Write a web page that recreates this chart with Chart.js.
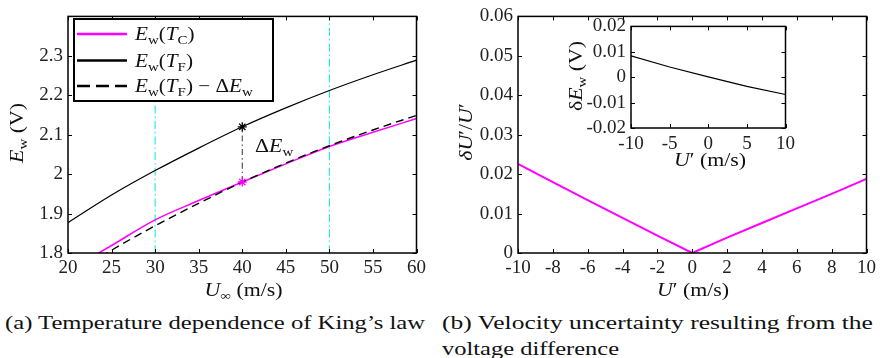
<!DOCTYPE html>
<html>
<head>
<meta charset="utf-8">
<script src="https://cdn.jsdelivr.net/npm/chart.js@4.4.1/dist/chart.umd.min.js"></script>
<style>
  body { margin: 0; background: #fff; width: 880px; height: 358px; position: relative; overflow: hidden; font-family: "Liberation Serif", serif; }
  .box { position: absolute; }
  .cap { position: absolute; font-size: 19.5px; line-height: 26px; white-space: nowrap; color: #111; display: inline-block; transform-origin: 0 50%; }
</style>
</head>
<body>
<div class="box" style="left:0;top:0;width:430px;height:300px"><canvas id="kingChart"></canvas></div>
<div class="box" style="left:440px;top:0;width:440px;height:300px"><canvas id="errChart"></canvas></div>
<div class="box" style="left:560px;top:10px;width:240px;height:165px"><canvas id="insetChart"></canvas></div>

<div class="cap" style="left:5px;top:310px" data-w="420">(a) Temperature dependence of King’s law</div>
<div class="cap" style="left:442px;top:310px" data-w="431">(b) Velocity uncertainty resulting from the</div>
<div class="cap" style="left:442px;top:336px" data-w="177">voltage difference</div>

<script>
// (a) King's law at two temperatures
const uInf = [20, 25, 30, 35, 40, 45, 50, 55, 60];
const ewTC = [1.755, 1.819, 1.884, 1.933, 1.980, 2.026, 2.070, 2.106, 2.141];
const ewTF = [1.877, 1.947, 2.009, 2.066, 2.120, 2.168, 2.212, 2.252, 2.289];
const ewTFminusDelta = [1.737, 1.807, 1.869, 1.926, 1.980, 2.028, 2.072, 2.112, 2.149];
const refU = 40;
const refTF = 2.120;
const refTC = 1.980;
const guideU = [30, 50];
const kingXTicks = [20, 60, 5];      // min, max, step
const kingYTicks = [1.8, 2.4, 0.1];

// (b) velocity uncertainty
const uPrime = [-10, -8, -6, -4, -2, 0, 2, 4, 6, 8, 10];
const relErr = [0.0226, 0.0180, 0.0134, 0.0089, 0.0044, 0.0000, 0.0039, 0.0076, 0.0113, 0.0150, 0.0188];
const errXTicks = [-10, 10, 2];
const errYTicks = [0, 0.06, 0.01];

// inset: voltage difference
const uPrimeInset = [-10, -5, 0, 5, 10];
const deltaEw = [0.0084, 0.0040, 0.0001, -0.0036, -0.0068];
const insetXTicks = [-10, 10, 5];
const insetYTicks = [-0.02, 0.02, 0.01];

const FAMILY = 'Liberation Serif';
const SIZE = 19;
const FONT = '"' + FAMILY + '", serif';
const SX = 1.15;   // LaTeX fonts run wider than Times
const pts = (xs, ys) => xs.map((x, i) => ({ x: x, y: ys[i] }));
const fmt = v => String(+(+v).toFixed(3));

// draw text with italic / subscript pieces: [text, 'i'|'s'|'']
function drawRich(ctx, parts, x, y, align, scale) {
  const size = SIZE * (scale || 1);
  const sub = Math.round(size * 0.7);
  const fontOf = p => (p[1] === 'i' ? 'italic ' : '') + (p[1] === 's' ? sub : size) + 'px ' + FONT;
  let w = 0;
  const widths = parts.map(p => { ctx.font = fontOf(p); const m = ctx.measureText(p[0]).width; w += m; return m; });
  ctx.save();
  ctx.translate(x, y);
  ctx.scale(SX, 1);
  let cx = align === 'center' ? -w / 2 : 0;
  ctx.textAlign = 'left';
  ctx.textBaseline = 'alphabetic';
  parts.forEach((p, i) => {
    ctx.font = fontOf(p);
    ctx.fillText(p[0], cx, p[1] === 's' ? size * 0.22 : 0);
    cx += widths[i];
  });
  ctx.restore();
}

function framePlugin(cfg) {
  return {
    id: 'frame',
    afterDraw(chart) {
      const ctx = chart.ctx, a = chart.chartArea, x = chart.scales.x, y = chart.scales.y;
      ctx.save();
      ctx.strokeStyle = '#000';
      ctx.lineWidth = 1;
      ctx.beginPath();
      x.ticks.forEach(t => {
        const p = Math.round(x.getPixelForValue(t.value)) + 0.5;
        ctx.moveTo(p, a.bottom); ctx.lineTo(p, a.bottom - 4);
        ctx.moveTo(p, a.top); ctx.lineTo(p, a.top + 4);
      });
      y.ticks.forEach(t => {
        const p = Math.round(y.getPixelForValue(t.value)) + 0.5;
        ctx.moveTo(a.left, p); ctx.lineTo(a.left + 4, p);
        ctx.moveTo(a.right, p); ctx.lineTo(a.right - 4, p);
      });
      ctx.stroke();
      ctx.lineWidth = 1.5;
      ctx.strokeRect(a.left, a.top, a.right - a.left, a.bottom - a.top);
      ctx.fillStyle = '#111';
      cfg.texts.forEach(t => {
        if (t.rot) {
          ctx.save();
          ctx.translate(t.x, t.y);
          ctx.rotate(-Math.PI / 2);
          drawRich(ctx, t.parts, 0, 0, 'center', t.scale);
          ctx.restore();
        } else {
          drawRich(ctx, t.parts, t.x, t.y, t.align || 'left', t.scale);
        }
      });
      if (cfg.extra) cfg.extra(ctx, chart);
      ctx.restore();
    }
  };
}

function axis(ticks, fixed, isY, cb, pad) {
  return {
    type: 'linear',
    min: ticks[0], max: ticks[1],
    grid: { display: false, drawTicks: false },
    border: { display: false },
    ticks: {
      stepSize: ticks[2], color: '#222', padding: pad, autoSkip: false, maxRotation: 0,
      font: { family: FAMILY, size: SIZE },
      callback: cb || (v => fmt(v))
    },
    afterFit: s => { if (isY) s.width = fixed; else s.height = fixed; }
  };
}

const lineDs = (data, color, width, dash) => ({
  data: data, showLine: true, borderColor: color, borderWidth: width,
  borderDash: dash || [], pointRadius: 0, fill: false, cubicInterpolationMode: 'monotone'
});

// legend for (a)
function kingLegend(ctx) {
  ctx.save();
  ctx.fillStyle = '#fff';
  ctx.fillRect(74, 19, 199, 82);
  ctx.strokeStyle = '#000';
  ctx.lineWidth = 2;
  ctx.strokeRect(74, 19, 199, 82);
  const rows = [
    { c: '#ff00ff', d: [], y: 34, parts: [['E', 'i'], ['w', 's'], ['(', ''], ['T', 'i'], ['C', 's'], [')', '']] },
    { c: '#000', d: [], y: 60.5, parts: [['E', 'i'], ['w', 's'], ['(', ''], ['T', 'i'], ['F', 's'], [')', '']] },
    { c: '#000', d: [13, 6], y: 86, parts: [['E', 'i'], ['w', 's'], ['(', ''], ['T', 'i'], ['F', 's'], [') \u2212 \u0394', ''], ['E', 'i'], ['w', 's']] }
  ];
  rows.forEach(r => {
    ctx.strokeStyle = r.c;
    ctx.lineWidth = 2.5;
    ctx.setLineDash(r.d);
    ctx.beginPath(); ctx.moveTo(77, r.y); ctx.lineTo(127, r.y); ctx.stroke();
    ctx.setLineDash([]);
    ctx.fillStyle = '#111';
    drawRich(ctx, r.parts, 135, r.y + 6, 'left', 0.97);
  });
  ctx.restore();
}

document.addEventListener('DOMContentLoaded', function() {
  Chart.defaults.animation = false;
  Chart.defaults.responsive = true;
  Chart.defaults.maintainAspectRatio = false;
  Chart.defaults.plugins.legend.display = false;
  Chart.defaults.plugins.tooltip.enabled = false;

  // King's law chart
  new Chart(document.getElementById('kingChart'), {
    type: 'scatter',
    data: {
      datasets: [
        { data: [{ x: refU, y: refTF }], pointStyle: 'star', pointRadius: 4.5, borderColor: '#000', borderWidth: 1.3 },
        { data: [{ x: refU, y: refTC }], pointStyle: 'star', pointRadius: 4.5, borderColor: '#ff00ff', borderWidth: 1.3 },
        lineDs(pts(uInf, ewTFminusDelta), '#000', 1.4, [8, 5]),
        lineDs(pts(uInf, ewTC), '#ff00ff', 1.5),
        lineDs(pts(uInf, ewTF), '#000', 1.2),
        lineDs([{ x: refU, y: refTC }, { x: refU, y: refTF }], '#333', 1, [6, 3, 1.5, 3]),
        lineDs([{ x: guideU[0], y: kingYTicks[0] }, { x: guideU[0], y: kingYTicks[1] }], '#00e8e8', 1, [8, 3, 1.5, 3]),
        lineDs([{ x: guideU[1], y: kingYTicks[0] }, { x: guideU[1], y: kingYTicks[1] }], '#00e8e8', 1, [8, 3, 1.5, 3])
      ]
    },
    options: {
      layout: { padding: { top: 13, right: 11, left: 0, bottom: 0 } },
      scales: {
        x: axis(kingXTicks, 47, false, null, 4),
        y: axis(kingYTicks, 68, true, v => (v > 2.35 ? '' : fmt(v)), 5)
      }
    },
    plugins: [framePlugin({
      texts: [
        { parts: [['U', 'i'], ['\u221E', 's'], [' (m/s)', '']], x: 243.5, y: 296, align: 'center' },
        { parts: [['E', 'i'], ['w', 's'], [' (V)', '']], x: 23, y: 133, rot: true },
        { parts: [['\u0394', ''], ['E', 'i'], ['w', 's']], x: 255, y: 152 }
      ],
      extra: kingLegend
    })]
  });

  // velocity uncertainty chart
  new Chart(document.getElementById('errChart'), {
    type: 'scatter',
    data: {
      datasets: [
        Object.assign(lineDs(pts(uPrime, relErr), '#ff00ff', 2), { cubicInterpolationMode: 'default', tension: 0 })
      ]
    },
    options: {
      layout: { padding: { top: 13, right: 12, left: 0, bottom: 0 } },
      scales: {
        x: axis(errXTicks, 47, false, null, 4),
        y: axis(errYTicks, 78, true, null, 5)
      }
    },
    plugins: [framePlugin({
      texts: [
        { parts: [['U', 'i'], ['\u2032 (m/s)', '']], x: 253, y: 296, align: 'center' },
        { parts: [['\u03B4U', 'i'], ['\u2032/', ''], ['U', 'i'], ['\u2032', '']], x: 32, y: 132, rot: true }
      ]
    })]
  });

  // inset
  new Chart(document.getElementById('insetChart'), {
    type: 'scatter',
    data: {
      datasets: [
        Object.assign(lineDs(pts(uPrimeInset, deltaEw), '#000', 1.2), { cubicInterpolationMode: 'default', tension: 0 })
      ]
    },
    options: {
      layout: { padding: { top: 14, right: 11, left: 0, bottom: 0 } },
      scales: {
        x: axis(insetXTicks, 47, false, null, 5),
        y: axis(insetYTicks, 71, true, null, 5)
      }
    },
    plugins: [{
      id: 'insetBg',
      beforeDraw(chart) {
        const a = chart.chartArea;
        chart.ctx.save();
        chart.ctx.fillStyle = '#fff';
        chart.ctx.fillRect(a.left, a.top, a.right - a.left, a.bottom - a.top);
        chart.ctx.restore();
      }
    }, framePlugin({
      texts: [
        { parts: [['U', 'i'], ['\u2032 (m/s)', '']], x: 150, y: 156, align: 'center' },
        { parts: [['\u03B4', ''], ['E', 'i'], ['w', 's'], [' (V)', '']], x: 22, y: 66, rot: true }
      ]
    })]
  });

  // captions: stretched horizontally to the reference widths
  document.querySelectorAll('.cap[data-w]').forEach(el => {
    const w = el.getBoundingClientRect().width;
    el.style.transform = 'scaleX(' + (+el.dataset.w / w).toFixed(3) + ')';
  });
});
</script>
</body>
</html>
